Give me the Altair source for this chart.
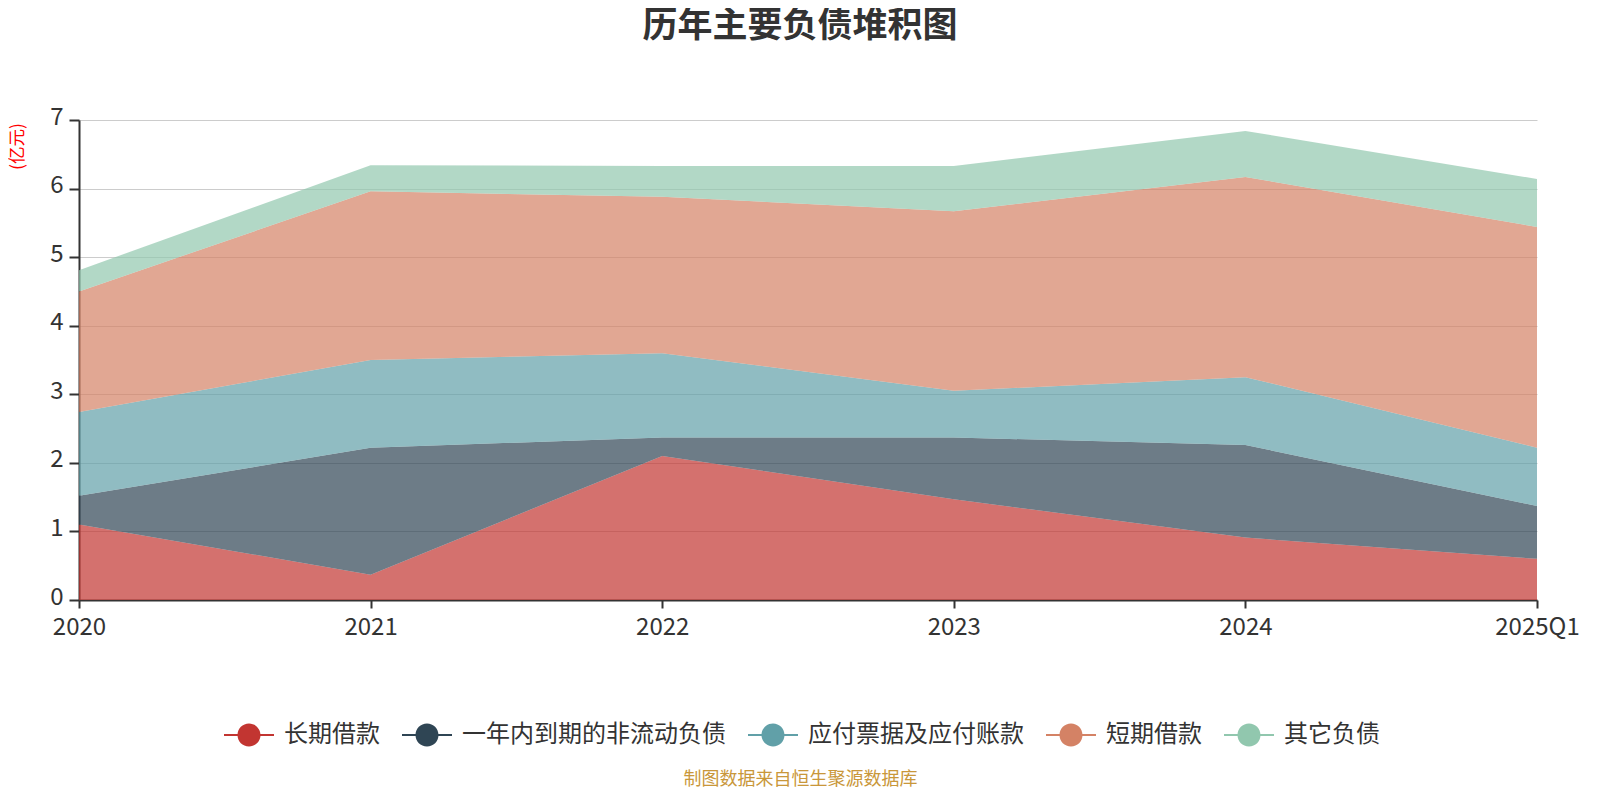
import altair as alt
import pandas as pd

periods = ["2020", "2021", "2022", "2023", "2024", "2025Q1"]
series_names = ["长期借款", "一年内到期的非流动负债", "应付票据及应付账款", "短期借款", "其它负债"]
series_colors = ["#c23531", "#2f4554", "#61a0a8", "#d48265", "#91c7ae"]

long_loan = [1.10, 0.37, 2.10, 1.47, 0.91, 0.60]
current_noncurrent = [0.42, 1.85, 0.27, 0.90, 1.35, 0.77]
payables = [1.22, 1.28, 1.23, 0.68, 0.99, 0.85]
short_loan = [1.76, 2.46, 2.28, 2.62, 2.92, 3.22]
other_liab = [0.31, 0.38, 0.45, 0.66, 0.67, 0.70]

all_series = [long_loan, current_noncurrent, payables, short_loan, other_liab]

rows = []
for si, (name, vals) in enumerate(zip(series_names, all_series)):
    for p, v in zip(periods, vals):
        rows.append({"period": p, "series": name, "value": v, "order": si})
df = pd.DataFrame(rows)

FONT = "Noto Sans CJK SC"
TXT = "#333333"

legend_symbol = (
    "M-1,-0.04 L-0.45,-0.04 L-0.45,0.04 L-1,0.04 Z "
    "M0.45,-0.04 L1,-0.04 L1,0.04 L0.45,0.04 Z "
    "M-0.46,0 A0.46,0.46 0 1,1 0.46,0 A0.46,0.46 0 1,1 -0.46,0 Z"
)

chart = (
    alt.Chart(df)
    .mark_area(opacity=0.7)
    .encode(
        x=alt.X(
            "period:N",
            sort=periods,
            scale=alt.Scale(type="point", padding=0),
            axis=alt.Axis(
                title="制图数据来自恒生聚源数据库",
                titleColor="#c9973a",
                titleFont=FONT,
                titleFontSize=18,
                titleFontWeight="normal",
                titleX=721,
                titleY=179,
                titleAlign="center",
                titleBaseline="middle",
                labelAngle=0,
                labelFont=FONT,
                labelFontSize=24,
                labelColor=TXT,
                labelPadding=7,
                tickSize=8,
                tickWidth=2,
                tickColor=TXT,
                domainColor=TXT,
                domainWidth=2,
                grid=False,
            ),
        ),
        y=alt.Y(
            "value:Q",
            stack="zero",
            scale=alt.Scale(domain=[0, 7], nice=False),
            axis=alt.Axis(
                title="(亿元)",
                titleColor="red",
                titleFont=FONT,
                titleFontSize=17.5,
                titleFontWeight="normal",
                titleAngle=270,
                titleX=-62,
                titleY=26,
                titleAlign="center",
                titleBaseline="middle",
                values=[0, 1, 2, 3, 4, 5, 6, 7],
                labelFont=FONT,
                labelFontSize=24,
                labelColor=TXT,
                labelPadding=6,
                labelOffset=-3,
                tickSize=10,
                tickWidth=2,
                tickColor=TXT,
                domainColor=TXT,
                domainWidth=2,
                grid=True,
                gridColor="#cccccc",
                gridWidth=1,
            ),
        ),
        color=alt.Color(
            "series:N",
            scale=alt.Scale(domain=series_names, range=series_colors),
            sort=series_names,
            legend=alt.Legend(
                title=None,
                orient="none",
                direction="horizontal",
                legendX=145,
                legendY=590,
                symbolType=legend_symbol,
                symbolSize=2500,
                symbolOpacity=1,
                symbolStrokeWidth=0,
                labelFont=FONT,
                labelFontSize=24,
                labelColor=TXT,
                labelOffset=10,
                columnPadding=22,
                padding=0,
                labelLimit=400,
            ),
        ),
        order=alt.Order("order:Q", sort="ascending"),
    )
    .properties(
        width=1458,
        height=480,
        padding={"left": 71, "top": 112, "right": 55, "bottom": 190},
        autosize=alt.AutoSizeParams(type="none"),
        title=alt.TitleParams(
            "历年主要负债堆积图",
            font=FONT,
            fontSize=35,
            fontWeight="bold",
            color=TXT,
            anchor="middle",
            dx=-8,
            offset=61,
        ),
    )
    .configure_view(stroke=None)
)

chart.save("out.html", embed_options={"renderer": "svg", "actions": False})
